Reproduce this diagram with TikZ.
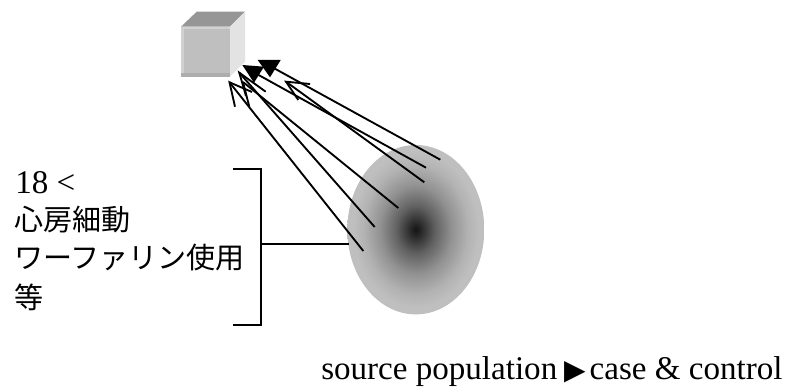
\documentclass[tikz,border=0pt]{standalone}
\usepackage{fontspec}
\setmainfont{Liberation Serif}
\newfontfamily\cjk{Noto Sans CJK JP}
\newfontfamily\sym{DejaVu Sans}
\pgfdeclareradialshading{popshade}{\pgfpoint{0bp}{0bp}}{
  color(0bp)=(black!92);
  color(2bp)=(black!84);
  color(7bp)=(black!62);
  color(13bp)=(black!43);
  color(19bp)=(black!30);
  color(23bp)=(black!25);
  color(50bp)=(black!25)}
\tikzset{
  px/.style={x=0.75pt,y=-0.75pt},
  conn/.style={draw=black,line width=1.4pt},
  openhead/.style={draw=black,line width=1.4pt,line join=miter},
  solidhead/.style={fill=black,draw=none},
  lbl/.style={anchor=west,inner sep=0pt,font=\fontsize{21.8pt}{26pt}\selectfont},
  latinlbl/.style={anchor=base west,inner sep=0pt,font=\fontsize{24.8pt}{28pt}\selectfont},
}
\begin{document}
\begin{tikzpicture}[px]
\useasboundingbox (0,0) rectangle (786,388);
% cube
\fill[black!25] (181,26.7) rectangle (230,76.7);
\fill[black!18] (181,26.7) rectangle (184,76.7);
\fill[black!18] (181,26.7) rectangle (230,29);
\fill[black!32] (181,73.5) rectangle (230,76.7);
\fill[black!41] (181,26.7) -- (196.7,11.7) -- (245,11.7) -- (230,26.7) -- cycle;
\fill[black!11] (230,26.7) -- (245,11.7) -- (245,61.7) -- (230,76.7) -- cycle;
% population
\path[shading=popshade] (415.8,229.7) ellipse [x radius=68.5,y radius=84.7];
% bracket
\coordinate (bt) at (233.3,169.3);
\coordinate (bb) at (233.3,325);
\coordinate (bm) at (260.7,244.3);
\coordinate (be) at (349,244.3);
\draw[conn] (bt) -- (260.7,169.3) -- (260.7,325) -- (bb);
\draw[conn] (bm) -- (be);
% arrows
\coordinate (t1) at (363.3,251);   \coordinate (h1) at (229.5,82.3);
\coordinate (t2) at (374.7,227);   \coordinate (h2) at (239.3,72.7);
\coordinate (t3) at (398.3,208);   \coordinate (h3) at (243,82);
\coordinate (t4) at (424.3,182.3); \coordinate (h4) at (286,81.7);
\coordinate (t5) at (426,167.7);   \coordinate (h5) at (242.3,65);
\coordinate (t6) at (440.3,159.7); \coordinate (h6) at (257.7,60);
\draw[conn] (t1) -- (h1);
\draw[openhead] (235,106.7) -- (h1) -- (252,92);
\draw[conn] (t2) -- (h2);
\draw[openhead] (246,96) -- (h2) -- (265.7,91.7);
\draw[conn] (t3) -- (h3);
\draw[openhead] (249.3,106.7) -- (h3);
\draw[conn] (t4) -- (h4);
\draw[openhead] (298.3,100) -- (h4) -- (310,84);
\draw[conn] (t5) -- (255,73);
\fill[solidhead] (h5) -- (264,66.7) -- (254,82.7) -- cycle;
\draw[conn] (t6) -- (270,66);
\fill[solidhead] (h6) -- (280.7,60) -- (270,77.3) -- cycle;
% text
\node[latinlbl] (l1) at (15,193.3) {18 <};
\node[lbl] (l2) at (14,220) {\cjk 心房細動};
\node[lbl] (l3) at (14,258) {\cjk ワーファリン使用};
\node[lbl] (l4) at (14,297) {\cjk 等};
\node[latinlbl] (l5) at (321,379.5) {source population {\sym\fontsize{21pt}{21pt}\selectfont\hspace{-1pt}▶\hspace{3pt}}case \& control};
\end{tikzpicture}
\end{document}
